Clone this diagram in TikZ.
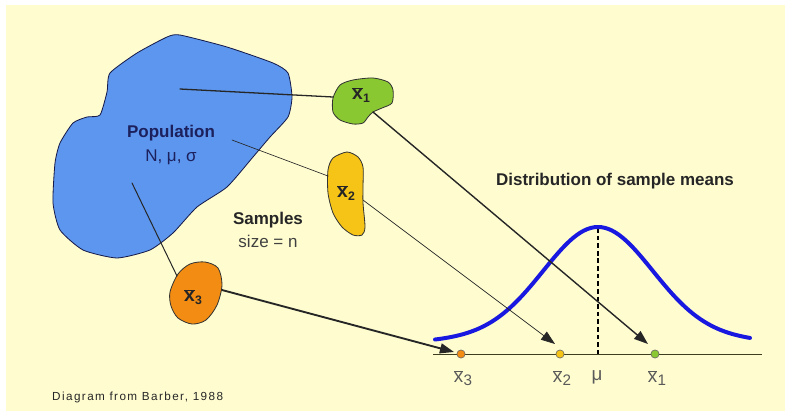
\documentclass[tikz,border=0pt]{standalone}
\usepackage{fontspec}
\setmainfont{Liberation Sans}
\usetikzlibrary{arrows.meta}
\definecolor{bgc}{RGB}{255,253,208}
\definecolor{popc}{RGB}{92,150,238}
\definecolor{grc}{RGB}{138,200,50}
\definecolor{yec}{RGB}{245,196,22}
\definecolor{orc}{RGB}{242,140,18}
\definecolor{bellc}{RGB}{24,24,224}
\definecolor{navy}{RGB}{28,32,92}
\definecolor{axc}{RGB}{60,60,30}
\newcommand\xb[1]{$\overline{\hbox{x}}$\kern0.3pt\raisebox{-2.5pt}{\fontsize{10.5}{12}\selectfont #1}}
\newcommand\xbb[1]{$\overline{\hbox{x}}$\kern0.3pt\raisebox{-2pt}{\fontsize{13}{15}\selectfont #1}}
\tikzset{
  x=0.03cm, y=-0.03cm,
  blob/.style={draw=black!80, line width=0.7pt, line join=round},
  lbl/.style={inner sep=0pt, font=\fontsize{14.5}{17}\selectfont},
  blbl/.style={lbl, font=\fontsize{14.5}{17}\selectfont\bfseries},
  slbl/.style={inner sep=0pt, text=black!85, font=\fontsize{16.5}{19}\selectfont\bfseries},
  axlbl/.style={inner sep=0pt, text=black!65, font=\fontsize{16}{19}\selectfont},
  tip/.style={-{Triangle[length=12pt,width=8.5pt]}},
  conn/.style={draw=black!85, line cap=round},
  dotc/.style={circle, inner sep=0pt, minimum size=7pt, draw=black!60, line width=0.5pt},
}
\begin{document}
\begin{tikzpicture}
\fill[white] (0,0) rectangle (785,411);
\fill[bgc] (6,5) rectangle (785,411);
\useasboundingbox (0,0) rectangle (785,411);

% population blob
\draw[blob, fill=popc, draw=navy!80!black] plot[smooth cycle, tension=0.35] coordinates {
 (180,35) (227,47) (273,63) (288,73) (292,97) (288,117) (270,137) (253,157)
 (227,187) (197,207) (173,233) (150,250) (117,258) (83,250) (60,230) (53,203)
 (55,163) (60,143) (73,123) (87,117) (100,115) (107,92) (110,73) (137,53) (167,37)};

% sample blobs
\draw[blob, fill=grc] plot[smooth cycle, tension=0.45] coordinates {
 (333,98) (340,85) (353,80) (373,78) (388,82) (393,90) (392,103) (382,108)
 (373,112) (368,117) (363,123) (353,124) (340,120) (333,112)};
\draw[blob, fill=yec] plot[smooth cycle, tension=0.45] coordinates {
 (328,170) (333,158) (347,152) (358,157) (363,167) (363,187) (363,203)
 (365,227) (362,235) (353,235) (342,227) (333,213) (328,193)};
\draw[blob, fill=orc] plot[smooth cycle, tension=0.5] coordinates {
 (170,292) (178,274) (190,264) (205,262) (218,268) (222,285) (217,305)
 (206,320) (192,324) (178,318) (171,306)};

% text
\node[blbl, text=navy] (pop) at (171,133) {Population};
\node[lbl, text=navy] (popp) at (171,157) {N, μ, σ};
\node[blbl, text=black!85] (samp) at (268,220) {Samples};
\node[lbl, text=black!75] (size) at (268,241) {size = n};
\node[blbl, text=black!85] (title) at (615,181) {Distribution of sample means};
\node[slbl] (s1) at (361,95) {\xb{1}};
\node[slbl] (s2) at (346,193) {\xb{2}};
\node[slbl] (s3) at (193,297) {\xb{3}};
\node[inner sep=0pt, anchor=base west, text=black!85, font=\fontsize{10}{12}\selectfont\addfontfeature{LetterSpace=12}] (cap) at (52,400) {Diagram from Barber, 1988};

% connector end points
\coordinate (p1) at (180,89);
\coordinate (p2) at (232,140);
\coordinate (p3) at (132,183);
\coordinate (e1) at (333,97);
\coordinate (e2) at (328,176);
\coordinate (e3) at (177,276);
\coordinate (o1) at (373,112);
\coordinate (o2) at (363,200);
\coordinate (o3) at (222,290);
\coordinate (t1) at (648,344);
\coordinate (t2) at (555,344);
\coordinate (t3) at (454,352);

\draw[conn, line width=1.1pt] (p1) -- (e1);
\draw[conn, line width=0.55pt] (p2) -- (e2);
\draw[conn, line width=0.85pt] (p3) -- (e3);

% axis, mu line, bell curve
\coordinate (a0) at (433,354);
\coordinate (a1) at (762,354);
\draw[axc, line width=0.8pt] (a0) -- (a1);
\coordinate (m0) at (598,228);
\coordinate (m1) at (598,354);
\draw[black, line width=1.3pt, dash pattern=on 4pt off 2.5pt] (m0) -- (m1);
\draw[bellc, line width=3.4pt, line cap=round] plot[domain=435:750, samples=90]
  (\x, {347-106*exp(-0.5*((\x-598)/54)^2)-14*exp(-0.5*((\x-598)/130)^2)});

% arrows
\draw[conn, tip, line width=1.2pt] (o1) -- (t1);
\draw[conn, tip, line width=0.6pt] (o2) -- (t2);
\draw[conn, tip, line width=1.6pt] (o3) -- (t3);

% dots
\node[dotc, fill=orc] (d3) at (461,354) {};
\node[dotc, fill=yec] (d2) at (560,354) {};
\node[dotc, fill=grc] (d1) at (655,354) {};

% bottom labels
\node[axlbl] (l3) at (463,378) {\xbb{3}};
\node[axlbl] (l2) at (562,378) {\xbb{2}};
\node[axlbl] (lm) at (597,377) {μ};
\node[axlbl] (l1) at (657,378) {\xbb{1}};
\end{tikzpicture}
\end{document}
